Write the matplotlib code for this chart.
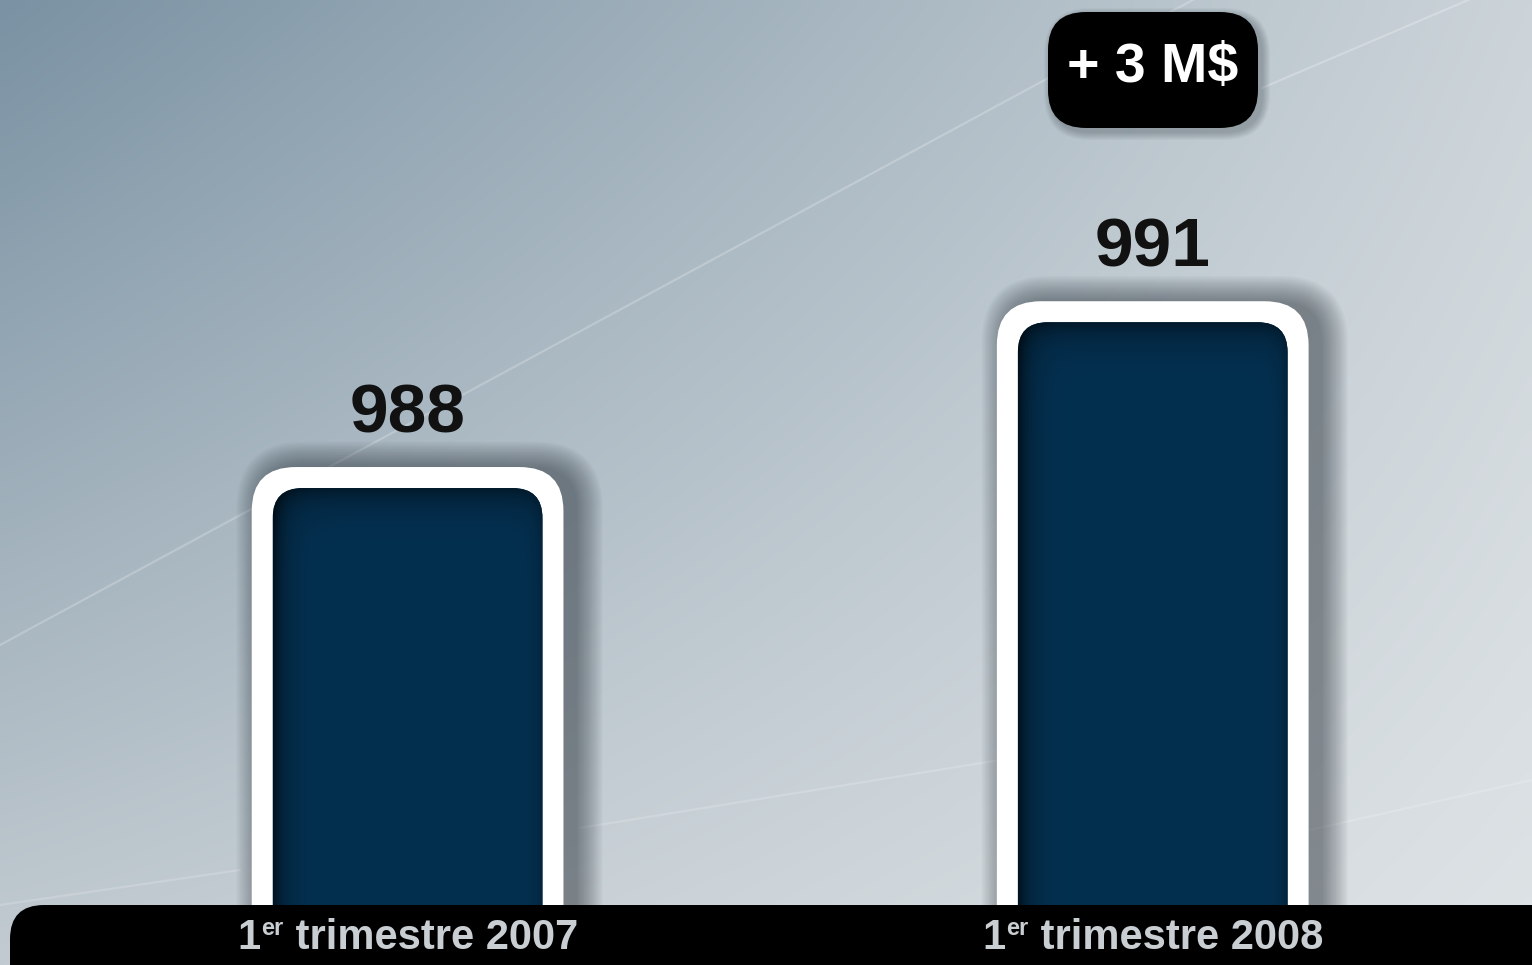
import numpy as np
import matplotlib
matplotlib.use("Agg")
import matplotlib.pyplot as plt
from matplotlib.patches import FancyBboxPatch
from matplotlib.transforms import IdentityTransform

# ---- data ----
periods = ["2007", "2008"]
ordinal = "1"
ordinal_sup = "er"
period_word = "trimestre"
values = [988, 991]
change_label = "+ 3 M$"

# ---- layout / style ----
W, H = 1532, 965
FONT = ["Liberation Sans Narrow", "Liberation Sans", "DejaVu Sans"]
ymin, ymax = 979.37, 996.83
xlim = (-0.547, 1.509)
bar_w = 0.362
navy = np.array([4, 48, 80]) / 255.0

fig = plt.figure(figsize=(W / 100, H / 100), dpi=100)

# background gradient
ax_bg = fig.add_axes([0, 0, 1, 1])
ax_bg.set_axis_off()
ny, nx = 120, 190
yy, xx = np.mgrid[0:1:ny * 1j, 0:1:nx * 1j]  # yy: 0 top -> 1 bottom
tl = np.array([0x7a, 0x92, 0xa3]) / 255
tr = np.array([0xcc, 0xd4, 0xd9]) / 255
bl = np.array([0xc2, 0xcb, 0xd1]) / 255
br = np.array([0xde, 0xe3, 0xe6]) / 255
img = (tl[None, None] * ((1 - xx) * (1 - yy))[..., None]
       + tr[None, None] * (xx * (1 - yy))[..., None]
       + bl[None, None] * ((1 - xx) * yy)[..., None]
       + br[None, None] * (xx * yy)[..., None])
ax_bg.imshow(img, extent=[0, 1, 0, 1], aspect="auto", origin="upper",
             interpolation="bicubic")
# faint diagonal light streaks
for (x0, y0, x1, y1, a) in [(0, 645, 1470, -150, 0.22),
                            (580, 828, 1000, 760, 0.18),
                            (1310, 830, 1532, 780, 0.18),
                            (0, 905, 240, 870, 0.18),
                            (1262, 88, 1480, -5, 0.25)]:
    ax_bg.plot([x0 / W, x1 / W], [1 - y0 / H, 1 - y1 / H], color="white",
               lw=1.6, alpha=a, solid_capstyle="round")
ax_bg.set_xlim(0, 1)
ax_bg.set_ylim(0, 1)

# main axes
ax = fig.add_axes([0, 0, 1, 1])
ax.set_xlim(*xlim)
ax.set_ylim(ymin, ymax)
ax.set_axis_off()
ax.patch.set_alpha(0)

PX = IdentityTransform()


def rbox(x, y, w, h, r, **kw):
    p = FancyBboxPatch((x, y), w, h, boxstyle=f"round,pad=0,rounding_size={r}",
                       transform=PX, **kw)
    ax.add_patch(p)
    return p


xs = np.arange(len(values))
bars = ax.bar(xs, np.array(values) - ymin, bottom=ymin, width=bar_w,
              color="none", edgecolor="none")

border = 21
for i, (b, v) in enumerate(zip(bars, values)):
    (px0, py0) = ax.transData.transform((b.get_x(), ymin))
    (px1, py1) = ax.transData.transform((b.get_x() + b.get_width(), v))
    wpx, hpx = px1 - px0, py1 - py0
    # soft shadow, offset to the right
    for k in range(16, 0, -1):
        e = border + k * 1.7
        rbox(px0 - e + 12, py0 - 60, wpx + 2 * e, hpx + 60 + e - 2, 40 + k * 1.7,
             facecolor="#202830", edgecolor="none", alpha=0.035, zorder=2)
    # white frame
    rbox(px0 - border, py0 - 60, wpx + 2 * border, hpx + 60 + border, 44,
         facecolor="white", edgecolor="none", zorder=3)
    # navy inner
    inner = rbox(px0, py0 - 60, wpx, hpx + 60, 30, facecolor=navy,
                 edgecolor="none", zorder=4)
    gy, gx = np.mgrid[0:1:200j, 0:1:160j]  # gy 0 top
    shade = (1 - 0.6 * np.exp(-gx * wpx / 12.0) - 0.25 * np.exp(-(1 - gx) * wpx / 8.0)
             - 0.45 * np.exp(-gy * hpx / 16.0))
    shade = np.clip(shade, 0.3, 1)
    gimg = navy[None, None] * shade[..., None]
    im = ax.imshow(gimg, extent=[b.get_x(), b.get_x() + b.get_width(), ymin, v],
                   aspect="auto", origin="upper", interpolation="bicubic",
                   zorder=5)
    im.set_clip_path(inner)
    # value label
    ax.annotate(f"{v}", xy=(xs[i], v), xytext=(0, 56 * 0.72),
                textcoords="offset points", ha="center", va="baseline",
                fontsize=50, fontweight="bold", color="#111111",
                family=["Liberation Sans", "DejaVu Sans"], zorder=6)

# bottom black band
rbox(10, -60, 1600, 60 + 60, 34, facecolor="black", edgecolor="none", zorder=7)

# change badge
bx0, by_top, bx1, by_bot = 1048, 12, 1258, 128
for k in range(8, 0, -1):
    rbox(bx0 - k + 4, H - by_bot - k - 4, (bx1 - bx0) + 2 * k, (by_bot - by_top) + 2 * k,
         38 + k, facecolor="#202830", edgecolor="none", alpha=0.035, zorder=7)
rbox(bx0, H - by_bot, bx1 - bx0, by_bot - by_top, 38, facecolor="black",
     edgecolor="none", zorder=8)
ax.text((bx0 + bx1) / 2, H - (by_top + by_bot) / 2 + 2, change_label,
        transform=PX, ha="center", va="center", fontsize=40,
        fontweight="bold", color="white",
        family=["Liberation Sans", "DejaVu Sans"], zorder=9)

# category labels with superscript
fig.canvas.draw()
renderer = fig.canvas.get_renderer()
label_color = "#c9ced3"
base_y = H - 949
for i, per in enumerate(periods):
    cx = ax.transData.transform((xs[i], ymin))[0]
    t1 = ax.text(0, base_y, ordinal, transform=PX, fontsize=30,
                 fontweight="bold", color=label_color, family=FONT,
                 va="baseline", ha="left", zorder=9)
    t2 = ax.text(0, base_y + 14, ordinal_sup, transform=PX, fontsize=17,
                 fontweight="bold", color=label_color, family=FONT,
                 va="baseline", ha="left", zorder=9)
    t3 = ax.text(0, base_y, f" {period_word} {per}", transform=PX, fontsize=30,
                 fontweight="bold", color=label_color, family=FONT,
                 va="baseline", ha="left", zorder=9)
    w1 = t1.get_window_extent(renderer).width
    w2 = t2.get_window_extent(renderer).width
    w3 = t3.get_window_extent(renderer).width
    total = w1 + 1 + w2 + w3
    start = cx - total / 2
    t1.set_x(start)
    t2.set_x(start + w1 + 1)
    t3.set_x(start + w1 + 1 + w2)

fig.savefig("out.png", dpi=100)
